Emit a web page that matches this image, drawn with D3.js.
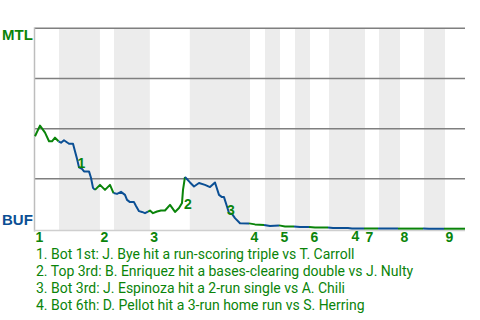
<!DOCTYPE html>
<html>
<head>
<meta charset="utf-8">
<script src="https://cdn.jsdelivr.net/npm/d3@7"></script>
<style>
  body { margin: 0; background: #fff; }
  svg { display: block; }
</style>
</head>
<body>
<svg id="chart"></svg>
<script>
let width = 480;
let height = 320;

// game progress (0-100) and MTL win probability (%) per play
let progress = [
  0, 1.16, 2.33, 3.26, 3.95, 4.65, 5.47, 6.05, 6.74, 7.91,
  8.84, 9.3, 9.77, 10.23, 10.93, 11.4, 12.56, 13.02, 13.49, 13.95,
  15.12, 16.28, 17.44, 18.26, 19.07, 20.0, 20.93, 21.4, 22.09, 23.02,
  23.49, 24.19, 24.88, 25.58, 26.28, 26.74, 27.44, 28.37, 29.3, 30.23,
  31.4, 32.56, 33.49, 34.19, 34.42, 34.88, 36.05, 36.98, 38.14, 39.53,
  40.7, 41.86, 42.79, 43.49, 43.95, 44.65, 45.12, 45.81, 46.51, 47.67,
  49.77, 51.16, 53.26, 54.65, 56.74, 58.14, 60.23, 61.63, 63.72, 65.12,
  68.14, 69.3, 72.79, 73.72, 76.51, 77.91, 79.77, 81.4, 84.42, 86.05,
  90.23, 91.63, 95.12, 96.51, 100
];
let winProb = [
  46.2, 51.5, 48, 43.7, 43.7, 45.5, 43.7, 43, 44.2, 42.5,
  42.5, 38.7, 35, 30.7, 30, 28.7, 28.7, 25.5, 20.5, 19.5,
  22, 19.5, 22, 17.9, 17.5, 18.5, 17, 14.5, 13.4, 13.4,
  11.5, 8.9, 8.5, 7.9, 8.7, 9.2, 7.9, 8.7, 9.2, 9.2,
  12, 8.5, 10.5, 13, 19.5, 25.9, 23.2, 21.2, 22.9, 22,
  20.9, 23.2, 17, 15.9, 15.9, 11.2, 7.9, 7.5, 5.4, 2.9,
  2.8, 2.3, 2, 1.5, 1.8, 1.3, 1.3, 1, 1, 0.8,
  0.8, 0.5, 0.5, 0.3, 0.3, 0.25, 0.25, 0.2, 0.2, 0.2,
  0.2, 0.15, 0.15, 0.15, 0.15
];

// where each half inning ends (game progress)
let halfBreaks = [
  5.58, 15.1, 18.37, 26.7, 36.0, 50.0, 53.49, 56.98, 60.47,
  63.95, 68.37, 76.74, 80.0, 84.88, 90.47, 95.35
];
let innings = ["1", "2", "3", "4", "5", "6", "7", "8", "9"];
let gridValues = [25, 50, 75, 100];

let eventPlays = [12, 44, 55, 73];
let eventTexts = [
  "1. Bot 1st: J. Bye hit a run-scoring triple vs T. Carroll",
  "2. Top 3rd: B. Enriquez hit a bases-clearing double vs J. Nulty",
  "3. Bot 3rd: J. Espinoza hit a 2-run single vs A. Chili",
  "4. Bot 6th: D. Pellot hit a 3-run home run vs S. Herring",
];

let awayTeam = "MTL";
let homeTeam = "BUF";

const green = "#0a840a";
const blue = "#0b4f94";

let svg = d3.select("svg#chart").attr("width", width).attr("height", height);

let xScale = d3.scaleLinear().domain([0, 100]).range([35, 465]);
let yScale = d3.scaleLinear().domain([0, 100]).range([229, 28.3]);

let edges = [0, ...halfBreaks, 100];
let plays = progress.map((p, i) => ({
  p: p,
  wp: winProb[i],
  half: d3.bisectRight(halfBreaks, p),
}));

drawBands();
drawGrid();
drawLine();
drawLabels();

function drawBands() {
  let bottoms = d3.range(1, edges.length - 1, 2);
  svg
    .append("g")
    .selectAll("rect")
    .data(bottoms)
    .join("rect")
    .attr("x", (i) => xScale(edges[i]))
    .attr("width", (i) => xScale(edges[i + 1]) - xScale(edges[i]))
    .attr("y", yScale(100))
    .attr("height", yScale(0) - yScale(100) + 1)
    .attr("fill", "#ececec");
}

function drawGrid() {
  svg
    .append("g")
    .selectAll("line")
    .data(gridValues)
    .join("line")
    .attr("x1", xScale(0))
    .attr("x2", xScale(100))
    .attr("y1", (d) => yScale(d))
    .attr("y2", (d) => yScale(d))
    .attr("stroke", "#7f7f7f")
    .attr("stroke-width", 1.5);

  svg
    .append("line")
    .attr("x1", xScale(0) - 0.5)
    .attr("x2", xScale(0) - 0.5)
    .attr("y1", yScale(100) - 1)
    .attr("y2", yScale(0) + 2.5)
    .attr("stroke", "#bdbdbd")
    .attr("stroke-width", 1.5);

  svg
    .append("line")
    .attr("x1", xScale(0) - 1)
    .attr("x2", xScale(100))
    .attr("y1", yScale(0) + 1.5)
    .attr("y2", yScale(0) + 1.5)
    .attr("stroke", "#cfcfcf")
    .attr("stroke-width", 1.5);
}

function drawLine() {
  let line = d3
    .line()
    .x((d) => xScale(d.p))
    .y((d) => yScale(d.wp));

  let halves = d3.range(0, edges.length - 1);
  let g = svg.append("g");

  halves.forEach((h) => {
    let first = plays.findIndex((d) => d.half === h);
    if (first < 0) return;
    let pts = plays.filter((d) => d.half === h);
    if (first > 0) pts.unshift(plays[first - 1]);

    g.append("path")
      .attr("d", line(pts))
      .attr("fill", "none")
      .attr("stroke", h % 2 === 0 ? green : blue)
      .attr("stroke-width", 2)
      .attr("stroke-linejoin", "round");
  });
}

function drawLabels() {
  svg
    .append("text")
    .attr("x", 2)
    .attr("y", 40)
    .attr("fill", green)
    .style("font", "bold 15px 'Liberation Sans', Arial, sans-serif")
    .text(awayTeam);

  svg
    .append("text")
    .attr("x", 2)
    .attr("y", 225)
    .attr("fill", blue)
    .style("font", "bold 15px 'Liberation Sans', Arial, sans-serif")
    .text(homeTeam);

  // inning numbers at the start of each inning
  svg
    .append("g")
    .selectAll("text")
    .data(innings)
    .join("text")
    .attr("x", (d, i) => xScale(edges[i * 2]) + 0.5)
    .attr("y", 242)
    .attr("fill", green)
    .style("font", "bold 14px 'Liberation Sans', Arial, sans-serif")
    .text((d) => d);

  // event markers placed by the jump they describe
  svg
    .append("g")
    .selectAll("text")
    .data(eventPlays)
    .join("text")
    .attr("x", (d) => (xScale(plays[d].p) + xScale(plays[d - 1].p)) / 2 + 5.5)
    .attr("y", (d) => (yScale(plays[d].wp) + yScale(plays[d - 1].wp)) / 2 + 8)
    .attr("text-anchor", "middle")
    .attr("dominant-baseline", "central")
    .attr("fill", green)
    .style("font", "bold 14px 'Liberation Sans', Arial, sans-serif")
    .text((d, i) => i + 1);

  svg
    .append("g")
    .selectAll("text")
    .data(eventTexts)
    .join("text")
    .attr("x", 36)
    .attr("y", (d, i) => 259 + i * 17)
    .attr("fill", green)
    .style("font", "14px Roboto, sans-serif")
    .text((d) => d);
}
</script>
</body>
</html>
